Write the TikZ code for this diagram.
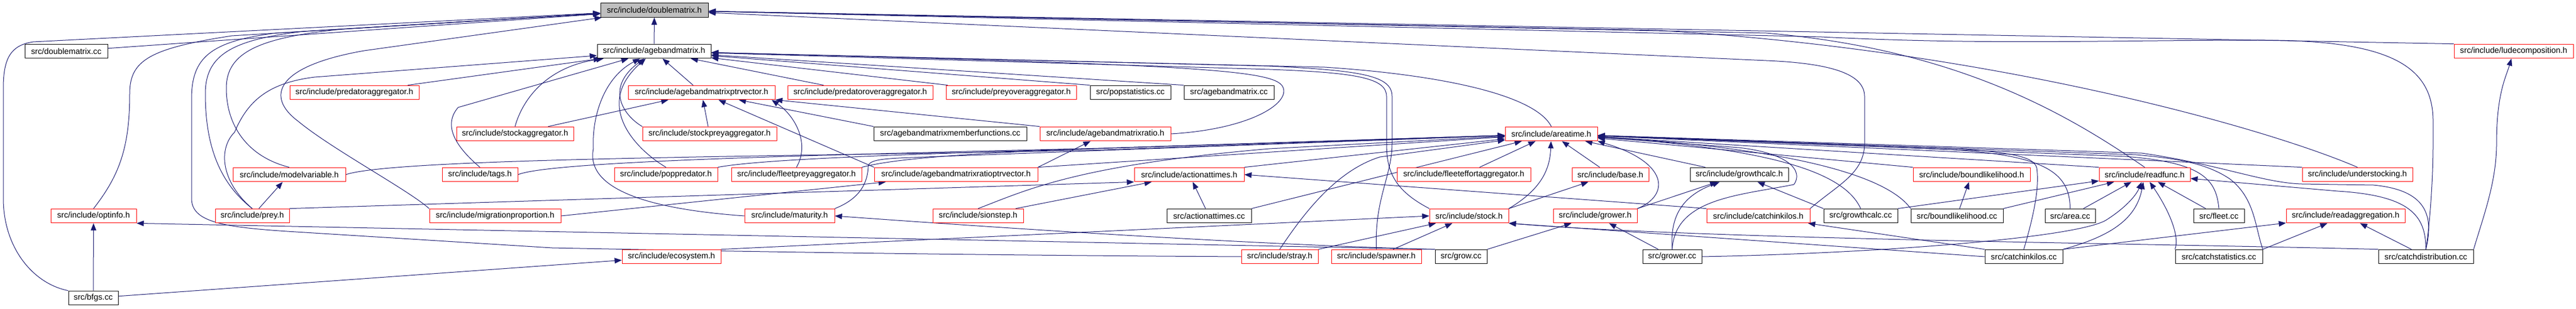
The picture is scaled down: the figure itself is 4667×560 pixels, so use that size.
\documentclass[tikz,border=0pt]{standalone}
\usepackage{fontspec}
\setmainfont{Liberation Sans}
\usepackage{xcolor}
\usepackage{tikz}
\usetikzlibrary{arrows.meta, backgrounds}

\definecolor{edgeblue}{HTML}{191970}
\definecolor{boxgray}{HTML}{BFBFBF}

\begin{document}
\begin{tikzpicture}[
        x=1pt, y=1pt,
        every node/.style={rectangle, draw=black, fill=white, line width=1pt, inner sep=0pt,
            minimum height=25.7pt, font=\fontsize{14.8}{16}\selectfont},
        trunc/.style={draw=red},
        incl/.style={draw=edgeblue, line width=1pt, -{Triangle[length=13pt, width=10pt]}}
    ]
    \useasboundingbox (0,0) rectangle (4667,560);

    % Nodes, row 1 and 2
    \node[minimum width=195pt, fill=boxgray] (dm) at (1185.5,541.5) {src/include/doublematrix.h};
    \node[minimum width=150pt] (dmcc) at (120,467) {src/doublematrix.cc};
    \node[minimum width=206pt] (abm) at (1185,467) {src/include/agebandmatrix.h};
    \node[trunc, minimum width=216pt] (lud) at (4554,467) {src/include/ludecomposition.h};

    % Nodes, row 3
    \node[trunc, minimum width=234pt] (predagg) at (642,392) {src/include/predatoraggregator.h};
    \node[trunc, minimum width=266pt] (abmptr) at (1271,392) {src/include/agebandmatrixptrvector.h};
    \node[trunc, minimum width=263pt] (predover) at (1558.5,392) {src/include/predatoroveraggregator.h};
    \node[trunc, minimum width=236pt] (preyover) at (1832,392) {src/include/preyoveraggregator.h};
    \node[minimum width=146pt] (popstat) at (2048,392) {src/popstatistics.cc};
    \node[minimum width=163pt] (abmcc) at (2226.5,392) {src/agebandmatrix.cc};

    % Nodes, row 4
    \node[trunc, minimum width=212pt] (stockagg) at (933,317) {src/include/stockaggregator.h};
    \node[trunc, minimum width=243pt] (stockpreyagg) at (1285.5,317) {src/include/stockpreyaggregator.h};
    \node[minimum width=277pt] (abmmem) at (1721.5,317) {src/agebandmatrixmemberfunctions.cc};
    \node[trunc, minimum width=237pt] (abmratio) at (2002.5,317) {src/include/agebandmatrixratio.h};
    \node[trunc, minimum width=167pt] (areatime) at (2810.5,317) {src/include/areatime.h};

    % Nodes, row 5
    \node[trunc, minimum width=204pt] (modelvar) at (524,243) {src/include/modelvariable.h};
    \node[trunc, minimum width=137pt] (tags) at (869.5,243) {src/include/tags.h};
    \node[trunc, minimum width=187pt] (poppred) at (1206.5,243) {src/include/poppredator.h};
    \node[trunc, minimum width=236pt] (fleetprey) at (1443,243) {src/include/fleetpreyaggregator.h};
    \node[trunc, minimum width=296pt] (ratioptr) at (1732,243) {src/include/agebandmatrixratioptrvector.h};
    \node[trunc, minimum width=199pt] (actionh) at (2154.5,243) {src/include/actionattimes.h};
    \node[trunc, minimum width=242pt] (fleeteff) at (2652,243) {src/include/fleeteffortaggregator.h};
    \node[trunc, minimum width=139pt] (base) at (2917.5,243) {src/include/base.h};
    \node[minimum width=178pt] (growthcalch) at (3151,243) {src/include/growthcalc.h};
    \node[trunc, minimum width=212pt] (boundh) at (3572,243) {src/include/boundlikelihood.h};
    \node[trunc, minimum width=165pt] (readfunc) at (3885.5,243) {src/include/readfunc.h};
    \node[trunc, minimum width=200pt] (understock) at (4271,243) {src/include/understocking.h};

    % Nodes, row 6
    \node[trunc, minimum width=155pt] (optinfo) at (169.5,168) {src/include/optinfo.h};
    \node[trunc, minimum width=134pt] (prey) at (457,168) {src/include/prey.h};
    \node[trunc, minimum width=238pt] (migration) at (897,168) {src/include/migrationproportion.h};
    \node[trunc, minimum width=163pt] (maturity) at (1430.5,168) {src/include/maturity.h};
    \node[trunc, minimum width=164pt] (sionstep) at (1772,168) {src/include/sionstep.h};
    \node[minimum width=153pt] (actioncc) at (2190.5,168) {src/actionattimes.cc};
    \node[trunc, minimum width=143pt] (stock) at (2661.5,168) {src/include/stock.h};
    \node[trunc, minimum width=152pt] (grower) at (2890,168) {src/include/grower.h};
    \node[trunc, minimum width=187pt] (catchkh) at (3185.5,168) {src/include/catchinkilos.h};
    \node[minimum width=134pt] (growthcalccc) at (3371,168) {src/growthcalc.cc};
    \node[minimum width=167pt] (boundcc) at (3545.5,168) {src/boundlikelihood.cc};
    \node[minimum width=91pt] (areacc) at (3750.5,168) {src/area.cc};
    \node[minimum width=92pt] (fleetcc) at (4020,168) {src/fleet.cc};
    \node[trunc, minimum width=215pt] (readagg) at (4249.5,168) {src/include/readaggregation.h};

    % Nodes, row 7 and 8
    \node[trunc, minimum width=179pt] (ecosystem) at (1216.5,94) {src/include/ecosystem.h};
    \node[trunc, minimum width=139pt] (stray) at (2318.5,94) {src/include/stray.h};
    \node[trunc, minimum width=163pt] (spawner) at (2493.5,94) {src/include/spawner.h};
    \node[minimum width=94pt] (growcc) at (2647,94) {src/grow.cc};
    \node[minimum width=107pt] (growercc) at (3029.5,94) {src/grower.cc};
    \node[minimum width=141pt] (catchkcc) at (3666.5,94) {src/catchinkilos.cc};
    \node[minimum width=158pt] (catchstat) at (4020,94) {src/catchstatistics.cc};
    \node[minimum width=172pt] (catchdist) at (4395,94) {src/catchdistribution.cc};
    \node[minimum width=90pt] (bfgs) at (169,19) {src/bfgs.cc};

    \begin{pgfonlayer}{background}
    % Edges to doublematrix.h
    \draw[incl] (abm) -- (dm);
    \draw[incl] (dmcc) -- (dm);
    \draw[incl] (bfgs.north west) .. controls (60,45) and (6,110) .. (6,200) -- (6,400) .. controls (6,455) and (20,478) .. (60,484) -- (dm);
    \draw[incl] (optinfo.north) .. controls (215,240) and (235,290) .. (235,390) .. controls (235,450) and (270,472) .. (420,495) -- (dm);
    \draw[incl] (prey.north) .. controls (395,230) and (372,300) .. (372,390) .. controls (372,460) and (420,488) .. (550,503) -- (dm);
    \draw[incl] (modelvar.north) .. controls (450,275) and (410,330) .. (410,400) .. controls (410,465) and (470,492) .. (620,507) -- (dm);
    \draw[incl] (migration.north west) .. controls (740,215) and (600,290) .. (540,340) .. controls (480,385) and (500,440) .. (660,468) -- (dm);
    \draw[incl] (stray.west) .. controls (1900,96) and (1500,100) .. (1000,110) -- (520,140) .. controls (400,148) and (347,158) .. (347,200) -- (347,380) .. controls (347,455) and (380,485) .. (500,500) -- (dm);
    \draw[incl] (catchkh.north east) .. controls (3330,225) and (3378,245) .. (3378,300) -- (3378,385) .. controls (3378,425) and (3320,445) .. (3200,450) -- (dm);
    \draw[incl] (readfunc.north) .. controls (3750,350) and (3550,470) .. (3200,500) -- (dm);
    \draw[incl] (understock.north) .. controls (4100,330) and (3600,470) .. (3000,505) -- (dm);
    \draw[incl] (lud.north west) -- (dm);
    \draw[incl] (catchdist.north) .. controls (4403,160) and (4408,240) .. (4408,300) -- (4408,340) .. controls (4408,440) and (4330,487) .. (4100,487) .. controls (3800,487) and (3600,478) .. (3300,493) -- (dm);

    % Edges to agebandmatrix.h
    \draw[incl] (predagg) -- (abm);
    \draw[incl] (prey.north) .. controls (400,230) and (395,290) .. (425,320) .. controls (450,380) and (490,410) .. (570,420) -- (abm);
    \draw[incl] (tags.north) .. controls (830,290) and (800,330) .. (830,365) -- (abm);
    \draw[incl] (stockagg.north) .. controls (950,390) and (1000,440) .. (abm);
    \draw[incl] (stockpreyagg.north west) .. controls (1130,350) and (1095,400) .. (abm);
    \draw[incl] (poppred.north) .. controls (1150,290) and (1075,370) .. (abm);
    \draw[incl] (maturity.west) .. controls (1180,180) and (1060,215) .. (1075,290) .. controls (1072,350) and (1095,420) .. (abm);
    \draw[incl] (abmptr) -- (abm);
    \draw[incl] (predover) -- (abm);
    \draw[incl] (preyover) -- (abm);
    \draw[incl] (popstat.north west) -- (abm);
    \draw[incl] (abmcc.north west) -- (abm);
    \draw[incl] (abmratio.east) .. controls (2260,325) and (2335,370) .. (2325,400) .. controls (2315,432) and (2200,442) .. (abm);
    \draw[incl] (areatime.north) .. controls (2780,390) and (2600,425) .. (2400,438) -- (abm);
    \draw[incl] (stock.north west) .. controls (2525,215) and (2512,250) .. (2512,300) -- (2512,385) .. controls (2512,418) and (2460,428) .. (2300,434) -- (abm);
    \draw[incl] (spawner.north) .. controls (2490,200) and (2522,240) .. (2522,300) -- (2522,385) .. controls (2522,422) and (2470,432) .. (2300,440) -- (abm);

    % Edges to agebandmatrixptrvector.h, agebandmatrixratio.h and agebandmatrixratioptrvector.h
    \draw[incl] (stockagg) -- (abmptr);
    \draw[incl] (stockpreyagg) -- (abmptr);
    \draw[incl] (fleetprey.north) .. controls (1468,300) and (1440,350) .. (abmptr.-6);
    \draw[incl] (ratioptr.north west) -- (abmptr);
    \draw[incl] (abmmem.north west) -- (abmptr);
    \draw[incl] (abmratio.north west) -- (abmptr);
    \draw[incl] (ratioptr.north east) -- (abmratio);
    \draw[incl] (migration.east) -- (ratioptr);

    % Edges to areatime.h
    \draw[incl] (modelvar.east) .. controls (720,275) and (1500,276) .. (2000,288) -- (areatime);
    \draw[incl] (tags.east) .. controls (1000,268) and (1500,279) .. (2000,291) -- (areatime);
    \draw[incl] (poppred.north east) .. controls (1400,275) and (1800,284) .. (2100,294) -- (areatime);
    \draw[incl] (fleetprey.north east) .. controls (1650,280) and (1900,288) .. (2200,297) -- (areatime);
    \draw[incl] (ratioptr.north east) -- (areatime);
    \draw[incl] (actionh.north east) -- (areatime);
    \draw[incl] (maturity.north east) .. controls (1560,200) and (1572,230) .. (1573,258) .. controls (1574,270) and (1600,272) .. (1650,274) -- (areatime);
    \draw[incl] (sionstep.north) .. controls (1860,215) and (1950,260) .. (2300,290) -- (areatime);
    \draw[incl] (actioncc.north east) -- (areatime);
    \draw[incl] (stray.north) .. controls (2360,170) and (2420,250) .. (2500,275) -- (areatime);
    \draw[incl] (fleeteff) -- (areatime);
    \draw[incl] (stock.north east) .. controls (2790,215) and (2808,250) .. (areatime);
    \draw[incl] (base) -- (areatime);
    \draw[incl] (growthcalch) -- (areatime);
    \draw[incl] (grower.north east) .. controls (3025,205) and (3025,265) .. (areatime.south east);
    \draw[incl] (growercc.north) .. controls (3035,200) and (3150,205) .. (3250,225) .. controls (3268,250) and (3240,282) .. (3150,292) -- (areatime);
    \draw[incl] (growthcalccc.north) .. controls (3340,250) and (3200,290) .. (areatime);
    \draw[incl] (boundcc.north west) .. controls (3420,240) and (3250,290) .. (areatime);
    \draw[incl] (boundh.north west) -- (areatime);
    \draw[incl] (readfunc.north west) -- (areatime);
    \draw[incl] (understock.north west) -- (areatime);
    \draw[incl] (areacc.north) .. controls (3750,250) and (3700,282) .. (3500,290) -- (areatime);
    \draw[incl] (catchkcc.north) .. controls (3685,170) and (3695,220) .. (3690,255) .. controls (3685,275) and (3650,282) .. (3550,290) -- (areatime);
    \draw[incl] (fleetcc.north) .. controls (4015,235) and (3990,265) .. (3850,276) -- (areatime);
    \draw[incl] (catchstat.north east) .. controls (4085,150) and (4085,200) .. (4040,235) .. controls (4000,262) and (3950,272) .. (3870,279) -- (areatime);
    \draw[incl] (catchdist.north) .. controls (4410,170) and (4395,215) .. (4300,224) -- (4170,226) .. controls (4100,228) and (4020,262) .. (3880,282) -- (areatime);

    % Edges in the lower rows
    \draw[incl] (prey) -- (modelvar);
    \draw[incl] (bfgs) -- (optinfo);
    \draw[incl] (bfgs) -- (ecosystem);
    \draw[incl] (growcc.north west) -- (optinfo.south east);
    \draw[incl] (growcc.north west) .. controls (2300,115) and (1900,140) .. (maturity.east);
    \draw[incl] (actioncc) -- (actionh);
    \draw[incl] (sionstep) -- (actionh);
    \draw[incl] (prey.north east) -- (actionh.south west);
    \draw[incl] (catchkh.north west) -- (actionh.east);
    \draw[incl] (spawner) -- (stock);
    \draw[incl] (stray.north east) -- (stock);
    \draw[incl] (ecosystem.north east) -- (stock.west);
    \draw[incl] (catchkcc.west) -- (stock.south east);
    \draw[incl] (catchdist.north west) .. controls (3900,118) and (3100,125) .. (stock.south east);
    \draw[incl] (stock.north east) -- (base);
    \draw[incl] (growcc.north east) -- (grower);
    \draw[incl] (growercc) -- (grower);
    \draw[incl] (grower.north east) -- (growthcalch);
    \draw[incl] (growercc.north) .. controls (3025,170) and (3050,205) .. (growthcalch);
    \draw[incl] (growthcalccc.north west) -- (growthcalch);
    \draw[incl] (catchkcc.north west) -- (catchkh);
    \draw[incl] (growthcalccc.north east) -- (readfunc);
    \draw[incl] (boundcc.north east) -- (readfunc);
    \draw[incl] (areacc) -- (readfunc);
    \draw[incl] (catchkcc.north east) .. controls (3820,130) and (3870,160) .. (readfunc);
    \draw[incl] (growercc.east) .. controls (3400,100) and (3760,128) .. (3815,160) .. controls (3850,182) and (3870,205) .. (readfunc);
    \draw[incl] (catchstat.north west) .. controls (3950,135) and (3925,185) .. (readfunc);
    \draw[incl] (fleetcc) -- (readfunc);
    \draw[incl] (catchdist.north) .. controls (4395,170) and (4365,205) .. (4235,213) -- (readfunc);
    \draw[incl] (boundcc) -- (boundh);
    \draw[incl] (catchstat.north east) -- (readagg);
    \draw[incl] (catchdist) -- (readagg);
    \draw[incl] (catchkcc.north east) -- (readagg);
    \draw[incl] (catchdist.north east) .. controls (4500,170) and (4523,230) .. (4523,300) .. controls (4523,390) and (4540,420) .. (lud);
    \end{pgfonlayer}

\end{tikzpicture}
\end{document}
